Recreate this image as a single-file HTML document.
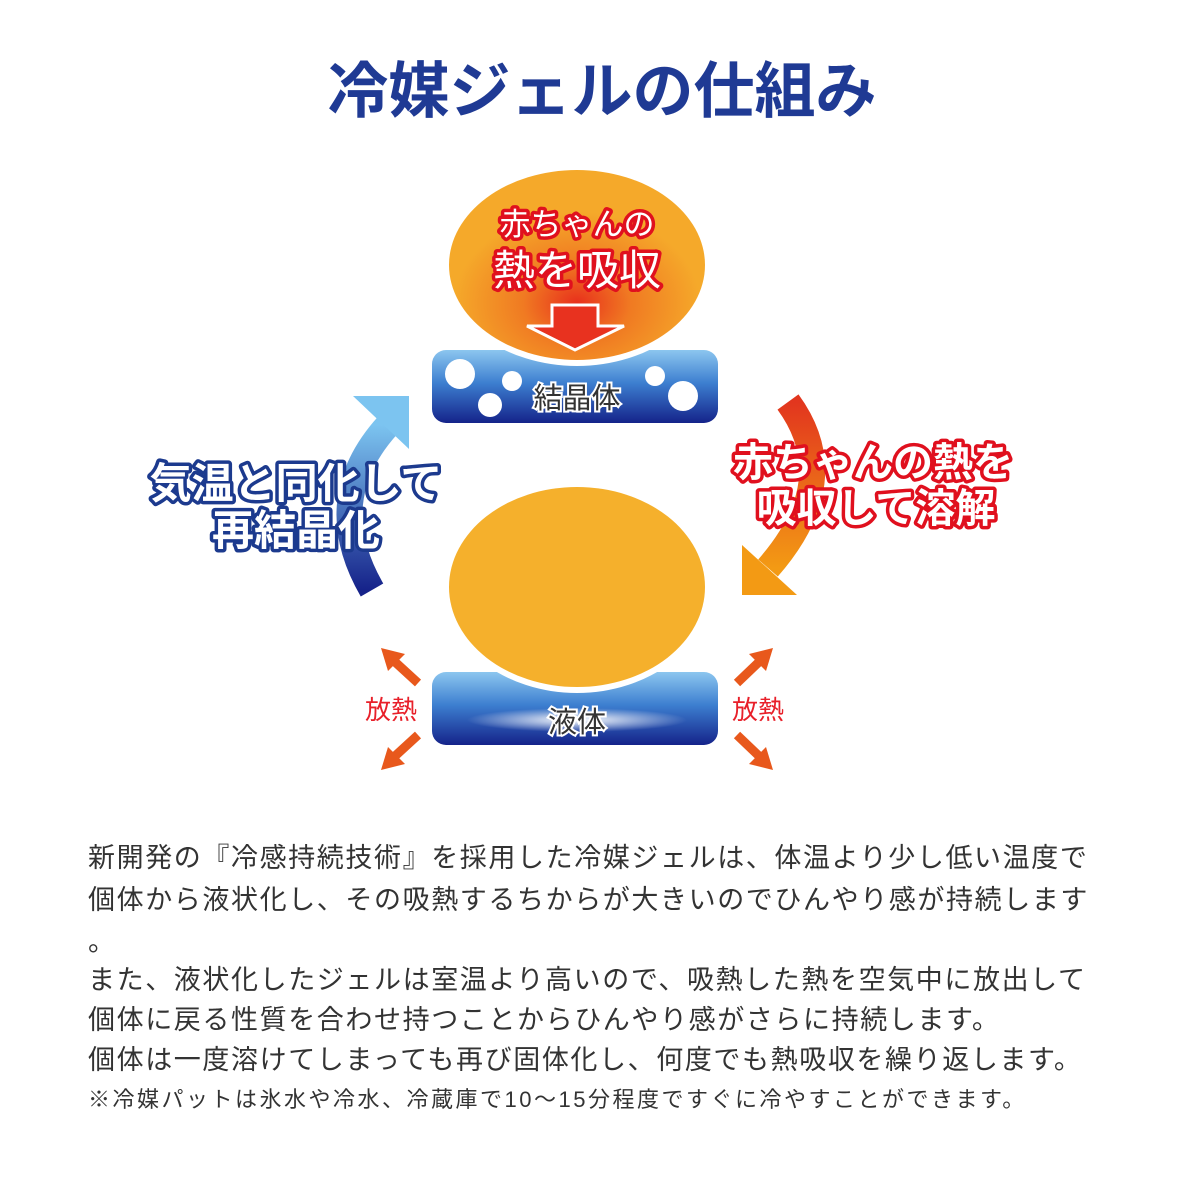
<!DOCTYPE html>
<html><head><meta charset="utf-8"><style>
body{margin:0;width:1200px;height:1200px;background:#fff;position:relative;overflow:hidden;font-family:"Liberation Sans","Noto Sans CJK JP",sans-serif}
.t{position:absolute;left:88px;white-space:nowrap;color:#333;font-size:27px;letter-spacing:1.6px;line-height:30px}
</style></head><body>
<svg width="1200" height="820" style="position:absolute;left:0;top:0" xmlns="http://www.w3.org/2000/svg">
<defs>
<radialGradient id="og" cx="0.5" cy="0.7" r="0.6"><stop offset="0" stop-color="#e8301c"/><stop offset="0.35" stop-color="#f07a22"/><stop offset="0.8" stop-color="#f5a92a"/></radialGradient>
<linearGradient id="bb" x1="0" y1="0" x2="0" y2="1"><stop offset="0" stop-color="#8cc6ef"/><stop offset="0.45" stop-color="#3d7fd0"/><stop offset="1" stop-color="#15238a"/></linearGradient>
<linearGradient id="la" x1="0" y1="0" x2="0" y2="1"><stop offset="0" stop-color="#7cc4f0"/><stop offset="1" stop-color="#16238a"/></linearGradient>
<linearGradient id="ra" x1="0" y1="0" x2="0" y2="1"><stop offset="0" stop-color="#e2361e"/><stop offset="1" stop-color="#f39a14"/></linearGradient>
<radialGradient id="glow" cx="0.5" cy="0.5" r="0.5"><stop offset="0" stop-color="#fff"/><stop offset="1" stop-color="#fff" stop-opacity="0"/></radialGradient>
</defs>
<text x="602" y="112" text-anchor="middle" font-size="61" font-weight="bold" fill="#1f3a94" font-family="Liberation Sans, Noto Sans CJK JP, sans-serif">冷媒ジェルの仕組み</text>
<rect x="432" y="350" width="286" height="73" rx="14" fill="url(#bb)"/>
<ellipse cx="577" cy="265" rx="134" ry="101" fill="#fff"/>
<ellipse cx="577" cy="265" rx="128" ry="95" fill="url(#og)"/>
<polygon points="552,305 598,305 598,326 624,326 575,350 527,326 552,326" fill="#e8321f" stroke="#fff" stroke-width="3"/>
<g fill="#fff"><circle cx="460" cy="374" r="15"/><circle cx="512" cy="381" r="10"/><circle cx="490" cy="405" r="12"/><circle cx="655" cy="376" r="10"/><circle cx="683" cy="396" r="15"/></g>
<text x="577" y="408" text-anchor="middle" font-size="29" fill="#333" stroke="#fff" stroke-width="4" paint-order="stroke">結晶体</text>
<g text-anchor="middle" fill="#fff" stroke="#e0101e" stroke-width="7" paint-order="stroke" stroke-linejoin="round">
<text x="577" y="235" font-size="31">赤ちゃんの</text>
<text x="577" y="285" font-size="42">熱を吸収</text>
</g>
<rect x="432" y="672" width="286" height="73" rx="14" fill="url(#bb)"/>
<ellipse cx="577" cy="720" rx="110" ry="12" fill="url(#glow)"/>
<ellipse cx="577" cy="587" rx="134" ry="106" fill="#fff"/>
<ellipse cx="577" cy="587" rx="128" ry="100" fill="#f5b02c"/>
<text x="577" y="732" text-anchor="middle" font-size="29" fill="#333" stroke="#fff" stroke-width="4" paint-order="stroke">液体</text>
<path d="M388 425 Q320 500 372 590" fill="none" stroke="url(#la)" stroke-width="26"/>
<polygon points="353,396 409,396 409,449" fill="#7cc4f0"/>
<g font-weight="bold" text-anchor="middle" fill="#fff" stroke="#1c3a8e" stroke-width="7" paint-order="stroke" stroke-linejoin="round" font-size="42">
<text x="296" y="498">気温と同化して</text>
<text x="296" y="545">再結晶化</text>
</g>
<path d="M788 402 Q845 480 768 568" fill="none" stroke="url(#ra)" stroke-width="26"/>
<polygon points="742,545 742,595 797,595" fill="#f39a14"/>
<g font-weight="bold" text-anchor="middle" fill="#fff" stroke="#e0101e" stroke-width="7" paint-order="stroke" stroke-linejoin="round" font-size="40">
<text x="873" y="476">赤ちゃんの熱を</text>
<text x="876" y="522">吸収して溶解</text>
</g>
<g stroke="#e8581c" stroke-width="9" fill="#e8581c">
<line x1="418" y1="683" x2="394" y2="661"/><polygon points="381,648 405,654 388,671" stroke="none"/>
<line x1="418" y1="735" x2="394" y2="757"/><polygon points="381,770 405,764 388,747" stroke="none"/>
<line x1="737" y1="683" x2="760" y2="661"/><polygon points="773,648 749,654 766,671" stroke="none"/>
<line x1="737" y1="735" x2="760" y2="757"/><polygon points="773,770 749,764 766,747" stroke="none"/>
</g>
<g fill="#e8202a" font-size="26" text-anchor="middle">
<text x="391" y="719">放熱</text>
<text x="758" y="719">放熱</text>
</g>
</svg>
<div class="t" style="top:843px">新開発の『冷感持続技術』を採用した冷媒ジェルは、体温より少し低い温度で</div>
<div class="t" style="top:885px">個体から液状化し、その吸熱するちからが大きいのでひんやり感が持続します</div>
<div class="t" style="top:927px">。</div>
<div class="t" style="top:965px">また、液状化したジェルは室温より高いので、吸熱した熱を空気中に放出して</div>
<div class="t" style="top:1005px">個体に戻る性質を合わせ持つことからひんやり感がさらに持続します。</div>
<div class="t" style="top:1045px">個体は一度溶けてしまっても再び固体化し、何度でも熱吸収を繰り返します。</div>
<div class="t" style="top:1085px;font-size:22px;letter-spacing:2.5px">※冷媒パットは氷水や冷水、冷蔵庫で10〜15分程度ですぐに冷やすことができます。</div>
</body></html>
